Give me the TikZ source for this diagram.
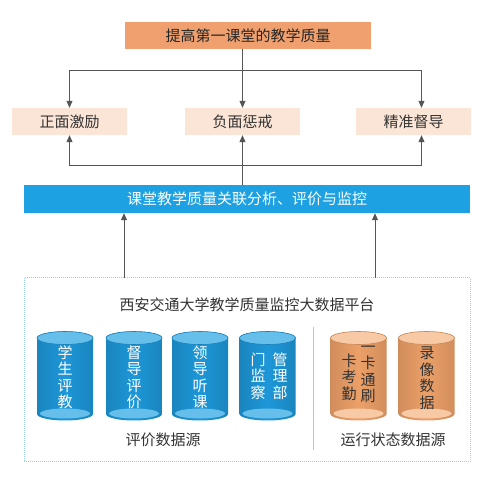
\documentclass[tikz,border=0pt]{standalone}
\usepackage{fontspec}
\setmainfont{Noto Sans CJK SC}
\usepackage{xcolor}
\usetikzlibrary{positioning, calc, arrows.meta}

\definecolor{goalorange}{HTML}{EFA06E}
\definecolor{peach}{HTML}{FBE5D6}
\definecolor{barblue}{HTML}{1DA1E2}
\definecolor{cylblue}{HTML}{1D97D8}
\definecolor{cylbluetop}{HTML}{66BEEA}
\definecolor{cylorange}{HTML}{EDA068}
\definecolor{cylorangetop}{HTML}{F7C9A4}
\definecolor{frameblue}{HTML}{9DD0E2}
\definecolor{linegray}{HTML}{555555}
\definecolor{darktext}{HTML}{333333}

% database cylinder: x centre, body colour, face colour
\newcommand{\dbcyl}[3]{%
  \begin{scope}[shift={(#1,0)}]
    \shade[left color=#2!88!black, right color=#2!88!black, middle color=#2]
      (-28,139) -- (-28,63) arc[start angle=180, end angle=360, x radius=28, y radius=6.5]
      -- (28,139) arc[start angle=0, end angle=180, x radius=28, y radius=6.5] -- cycle;
    \fill[#3] (0,63.5) ellipse[x radius=25, y radius=5];
    \filldraw[fill=#3, draw=#2!85!black, line width=0.6pt] (0,139) ellipse[x radius=28, y radius=6.5];
  \end{scope}}

\begin{document}
\begin{tikzpicture}[x=1pt, y=1pt,
    every node/.style={font=\fontsize{15}{18}\selectfont, text=darktext},
    arr/.style={-{Triangle[length=7pt,width=6pt]}, linegray, line width=0.8pt},
    goalbox/.style={fill=goalorange, minimum width=246pt, minimum height=27pt, inner sep=0pt, text=black!85},
    waybox/.style={fill=peach, minimum width=115pt, minimum height=27pt, inner sep=0pt},
    barbox/.style={fill=barblue, minimum width=446pt, minimum height=28pt, inner sep=0pt, text=white},
    platform/.style={draw=frameblue, densely dotted, line width=1pt, minimum width=446pt, minimum height=184pt, inner sep=0pt},
    cyltext/.style={align=center, inner sep=0pt, font=\fontsize{15}{16.5}\selectfont, text=white},
    cyltextdark/.style={cyltext, text=black!80}]
  \useasboundingbox (0,0) rectangle (504,477);
  \fill[white] (0,0) rectangle (504,477);

  % Goal and measures
  \node[goalbox] (goal) at (248,441.5) {提高第一课堂的教学质量};
  \node[waybox] (pos) at (69.5,355.5) {正面激励};
  \node[waybox] (neg) at (242.5,355.5) {负面惩戒};
  \node[waybox] (guide) at (413.5,355.5) {精准督导};

  % Analysis bar
  \node[barbox] (bar) at (247,278) {课堂教学质量关联分析、评价与监控};

  % Platform frame
  \node[platform] (plat) at (247,107) {};
  \node (plattitle) at (247,172) {西安交通大学教学质量监控大数据平台};

  % Arrows down from the goal
  \coordinate (fork) at (242.5,406.5);
  \draw[linegray, line width=0.8pt] (goal.south -| fork) -- (fork);
  \draw[arr] (fork) -- (neg.north);
  \draw[arr] (fork) -| (pos.north);
  \draw[arr] (fork) -| ([xshift=8pt]guide.north);

  % Arrows up from the analysis bar
  \coordinate (join) at (242.5,312);
  \draw[arr] (bar.north -| join) -- (neg.south);
  \draw[arr] (join) -| (pos.south);
  \draw[arr] (join) -| ([xshift=8pt]guide.south);

  % Arrows up from the platform
  \coordinate (upl) at (124,199);
  \coordinate (upr) at (375,199);
  \draw[arr] (upl) -- (upl |- bar.south);
  \draw[arr] (upr) -- (upr |- bar.south);

  % Separator
  \draw[frameblue, line width=0.8pt] (313,27) -- (313,150);

  % Cylinders
  \dbcyl{65}{cylblue}{cylbluetop}
  \dbcyl{134}{cylblue}{cylbluetop}
  \dbcyl{200}{cylblue}{cylbluetop}
  \dbcyl{267.5}{cylblue}{cylbluetop}
  \dbcyl{358.5}{cylorange}{cylorangetop}
  \dbcyl{426.5}{cylorange}{cylorangetop}

  \node[cyltext] (stu) at (65,99.5) {学\\生\\评\\教};
  \node[cyltext] (sup) at (134,99.5) {督\\导\\评\\价};
  \node[cyltext] (lead) at (200,99.5) {领\\导\\听\\课};
  \node[cyltext] (deptr) at (280,101) {管\\理\\部};
  \node[cyltext] (deptl) at (258,101) {门\\监\\察};
  \node[cyltextdark] (cardr) at (368,102.5) {一\\卡\\通\\刷};
  \node[cyltextdark] (cardl) at (349,100) {卡\\考\\勤};
  \node[cyltextdark] (video) at (427,99) {录\\像\\数\\据};

  % Source labels
  \node (evalsrc) at (163,37) {评价数据源};
  \node (runsrc) at (393,37) {运行状态数据源};
\end{tikzpicture}
\end{document}
